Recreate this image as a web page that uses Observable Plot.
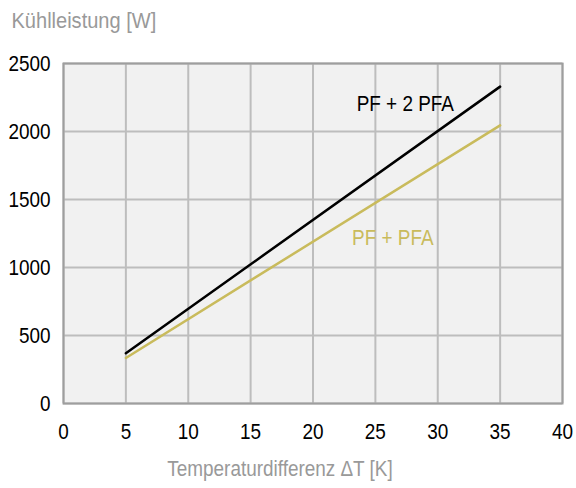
<!DOCTYPE html>
<html><head><meta charset="utf-8">
<script src="https://cdn.jsdelivr.net/npm/d3@7"></script>
<script src="https://cdn.jsdelivr.net/npm/@observablehq/plot@0.6"></script>
<style>
body{margin:0;background:#fff;}
svg, svg text{font-family:"Liberation Sans Narrow","Liberation Sans",sans-serif !important;}
</style></head>
<body><div id="chart"></div>
<script>
const xTicks = [0,5,10,15,20,25,30,35,40];
const yTicks = [0,500,1000,1500,2000,2500];
const deltaT = [5,35];
const pf2pfa = [370,2330];
const pfpfa = [335,2045];
const seriesNames = ["PF + 2 PFA","PF + PFA"];
const seriesColors = ["#000000","#c9bb5c"];
const labelX = [27.4,26.4];
const labelY = [2205,1220];
const yTitle = "Kühlleistung [W]";
const xTitle = "Temperaturdifferenz ΔT [K]";

const rows = [];
deltaT.forEach((t,i)=>{rows.push({s:seriesNames[0],x:t,y:pf2pfa[i]});rows.push({s:seriesNames[1],x:t,y:pfpfa[i]});});
const labels = seriesNames.map((s,i)=>({s,x:labelX[i],y:labelY[i]}));

const chart = Plot.plot({
  width:576,height:488,
  marginLeft:63,marginRight:14,marginTop:63,marginBottom:85,
  style:{fontSize:"22px",background:"#fff"},
  x:{domain:[0,40]},
  y:{domain:[0,2500]},
  color:{domain:seriesNames,range:seriesColors},
  marks:[
    Plot.frame({fill:"#f1f1f1"}),
    Plot.gridX(xTicks,{stroke:"#bdbdbd",strokeOpacity:1,strokeWidth:2}),
    Plot.gridY(yTicks,{stroke:"#bdbdbd",strokeOpacity:1,strokeWidth:2}),
    Plot.frame({stroke:"#9e9e9e",strokeWidth:2}),
    Plot.axisX(xTicks,{tickSize:0,tickPadding:20,label:null,fill:"#000",fontSize:22,tickFormat:d3.format("d")}),
    Plot.axisY(yTicks,{tickSize:0,tickPadding:13,label:null,fill:"#000",fontSize:22,tickFormat:d3.format("d")}),
    Plot.line(rows,{x:"x",y:"y",z:"s",stroke:"s",strokeWidth:2.5}),
    Plot.text(labels,{x:"x",y:"y",text:"s",fill:"s",fontSize:22,textAnchor:"middle"}),
    Plot.text([yTitle],{frameAnchor:"top-left",text:d=>d,dx:-52,dy:-51,textAnchor:"start",fill:"#999",fontSize:22,className:"ytitle"}),
    Plot.text([xTitle],{frameAnchor:"bottom",text:d=>d,dx:-33,dy:72,fill:"#999",fontSize:22})
  ]
});
document.getElementById("chart").append(chart);
// emulate the condensed typeface of the original
d3.select(chart).selectAll("text").each(function(){
  const len = this.getComputedTextLength();
  if (len > 0) {
    const k = this.closest(".ytitle") ? 0.91 : 0.86;
    this.setAttribute("textLength", (len*k).toFixed(1));
    this.setAttribute("lengthAdjust", "spacingAndGlyphs");
  }
});
</script></body></html>
